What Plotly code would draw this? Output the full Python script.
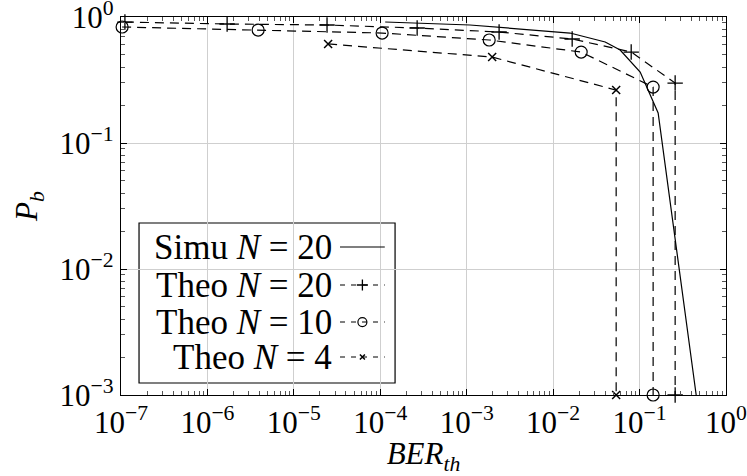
import plotly.graph_objects as go

# values (log-log axes)
simu20_x = [1.14e-4, 1.09e-3, 1.57e-2, 4.0e-2, 5.96e-2, 1.016e-1, 1.64e-1, 4.52e-1]
simu20_y = [0.913, 0.864, 0.746, 0.633, 0.547, 0.366, 0.173, 1e-3]

theo20_x = [1.11e-7, 1.69e-6, 2.42e-5, 2.67e-4, 2.37e-3, 1.66e-2, 8.0e-2, 0.258, 0.258]
theo20_y = [0.912, 0.880, 0.864, 0.818, 0.760, 0.669, 0.527, 0.299, 1e-3]

theo10_x = [1.03e-7, 3.86e-6, 1.05e-4, 1.82e-3, 2.11e-2, 0.1435, 0.1435]
theo10_y = [0.833, 0.788, 0.746, 0.657, 0.527, 0.278, 1e-3]

theo4_x = [2.49e-5, 1.97e-3, 5.36e-2, 5.36e-2]
theo4_y = [0.611, 0.481, 0.263, 1e-3]

x_tickvals = [1e-7, 1e-6, 1e-5, 1e-4, 1e-3, 1e-2, 1e-1, 1e0]
x_ticktext = ["10<sup>−7</sup>", "10<sup>−6</sup>", "10<sup>−5</sup>", "10<sup>−4</sup>",
              "10<sup>−3</sup>", "10<sup>−2</sup>", "10<sup>−1</sup>", "10<sup>0</sup>"]
y_tickvals = [1e-3, 1e-2, 1e-1, 1e0]
y_ticktext = ["10<sup>−3</sup>", "10<sup>−2</sup>", "10<sup>−1</sup>", "10<sup>0</sup>"]

legend_labels = ["Simu <i>N</i> = 20", "Theo <i>N</i> = 20", "Theo <i>N</i> = 10", "Theo <i>N</i> = 4"]

FONT = "Liberation Serif"
DASH = "9px,6px"

# minor tick positions 2..9 in every decade
x_minor = [m * 10.0 ** e for e in range(-7, 0) for m in range(2, 10)]
y_minor = [m * 10.0 ** e for e in range(-3, 0) for m in range(2, 10)]

series = [
    (simu20_x, simu20_y, "solid", None),
    (theo20_x, theo20_y, DASH, dict(symbol="cross-thin-open", size=11, line=dict(width=1.3, color="black"))),
    (theo10_x, theo10_y, DASH, dict(symbol="circle-open", size=12, color="black", line=dict(width=1.2))),
    (theo4_x, theo4_y, DASH, dict(symbol="x-thin-open", size=8, line=dict(width=1.5, color="black"))),
]

fig = go.Figure()
for xs, ys, dash, marker in series:
    fig.add_trace(go.Scatter(
        x=xs, y=ys,
        mode="lines" if marker is None else "lines+markers",
        line=dict(color="black", width=1.2, dash=dash),
        marker=marker, showlegend=False, cliponaxis=False,
    ))

# ── hand-made legend (text on the left, sample on the right, like pgfplots) ──
row_y = [0.3915, 0.291, 0.193, 0.1005]
for (xs, ys, dash, marker), ry, lab in zip(series, row_y, legend_labels):
    fig.add_trace(go.Scatter(
        x=[0.362, 0.399, 0.436], y=[ry, ry, ry],
        xaxis="x2", yaxis="y2",
        mode="lines" if marker is None else "lines+markers",
        line=dict(color="black", width=1.1, dash="5px,6px" if dash != "solid" else "solid"),
        marker=None if marker is None else dict(marker, size=marker["size"] - 3),
        selectedpoints=[1] if marker is not None else None,
        unselected=dict(marker=dict(opacity=0)) if marker is not None else None,
        showlegend=False,
    ))
    fig.add_annotation(x=0.352, y=ry, xref="paper", yref="paper", text=lab,
                       showarrow=False, xanchor="right", yanchor="middle",
                       font=dict(family=FONT, size=35, color="black"))

fig.add_shape(type="rect", xref="paper", yref="paper",
              x0=0.0298, x1=0.453, y0=0.0317, y1=0.455,
              line=dict(color="black", width=1.2), fillcolor="white", layer="between")

axis_common = dict(
    showline=True, linecolor="black", linewidth=1.2, mirror="allticks",
    ticks="inside", ticklen=6, tickcolor="black", automargin=False,
    ticklabeloverflow="allow",
    showgrid=True, gridcolor="#cfcfcf", gridwidth=1, zeroline=False,
    tickfont=dict(family=FONT, size=31, color="black"),
)

fig.update_layout(
    width=747, height=476,
    margin=dict(l=121, r=21, t=17, b=81),
    plot_bgcolor="white", paper_bgcolor="white",
    xaxis=dict(axis_common, type="log", range=[-7, 0],
               tickvals=x_tickvals, ticktext=x_ticktext,
               minor=dict(ticks="inside", ticklen=3.5, tickcolor="#555", showgrid=False, tickvals=x_minor),
               title=dict(text="<i>BER</i><sub><i>th</i></sub>", standoff=4,
                          font=dict(family=FONT, size=31, color="black"))),
    yaxis=dict(axis_common, type="log", range=[-3, 0],
               tickvals=y_tickvals, ticktext=y_ticktext,
               minor=dict(ticks="inside", ticklen=3.5, tickcolor="#555", showgrid=False, tickvals=y_minor),
               title=dict(text="<i>P</i><sub><i>b</i></sub>", standoff=12,
                          font=dict(family=FONT, size=31, color="black"))),
    xaxis2=dict(overlaying="x", range=[0, 1], visible=False),
    yaxis2=dict(overlaying="y", range=[0, 1], visible=False),
)

# drop the default 8px body margin so the figure sits flush in the window
fig.write_html("out.html", config={"displayModeBar": False},
               post_script="document.body.style.margin='0px';")
